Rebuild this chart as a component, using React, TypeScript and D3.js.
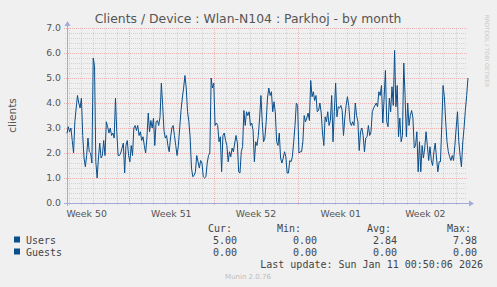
import React, { useRef, useEffect } from "react";
import * as d3 from "d3";

// Users, one value every stepHours from seriesStart
const users = [
  2.79, 3.05, 2.85, 3.0, 2.5, 2.0, 3.25, 3.8, 4.3, 4.0,
  3.8, 4.2, 2.7, 1.8, 1.45, 1.9, 2.6, 2.05, 2.0, 1.6,
  5.8, 5.5, 1.65, 1.0, 1.8, 2.4, 1.8, 1.9, 2.5, 1.9,
  3.25, 3.05, 2.8, 3.0, 2.7, 2.8, 2.6, 4.2, 2.85, 1.9,
  1.9, 2.0, 2.2, 2.4, 1.2, 2.3, 2.5, 1.9, 1.65, 2.3,
  1.9, 3.0, 3.1, 2.9, 3.1, 2.7, 2.85, 2.5, 2.65, 2.3,
  2.0, 2.6, 3.6, 2.85, 3.3, 3.0, 3.4, 2.3, 3.25, 3.3,
  3.1, 3.45, 4.8, 3.9, 2.9, 2.6, 2.7, 2.3, 2.05, 2.6,
  3.0, 3.1, 2.7, 2.3, 1.9, 2.3, 3.0, 3.7, 4.2, 4.6,
  5.1, 4.6, 3.65, 3.25, 2.6, 1.4, 1.05, 1.1, 1.25, 1.9,
  1.65, 1.4,
  1.7, 1.6, 1.05, 1.0, 1.05, 1.6, 1.9, 2.0, 5.0, 4.6,
  4.8, 3.1, 3.2, 3.1, 2.45, 2.65, 1.25, 2.7, 2.8, 2.5,
  2.3, 1.65, 2.05, 1.85, 2.2, 2.05, 2.4, 2.7, 2.4, 1.25,
  1.2, 2.05, 2.25, 3.7, 3.1, 3.65, 3.5, 3.65, 3.1, 3.2,
  2.9, 1.65, 2.45, 2.3, 2.7, 3.4, 4.3, 3.25, 2.45, 2.6,
  3.25, 4.2, 4.6, 4.3, 4.45, 3.65, 4.05, 3.6, 2.45, 2.3,
  2.8, 1.8, 1.6, 1.8, 2.05, 1.85, 1.2, 1.2, 1.7, 1.65,
  1.85, 2.45, 3.1, 4.0, 3.9, 2.0, 2.05, 2.05, 2.45, 3.5,
  3.25, 3.4, 3.6, 3.3, 4.9, 4.25, 4.45, 4.1, 4.3, 3.65,
  3.7, 4.0, 3.6, 2.8, 2.3, 3.45, 3.25, 3.65, 3.1, 3.3,
  4.3, 2.45,
  3.65, 4.8, 3.45, 3.85, 3.8, 3.9, 3.7, 2.7, 3.4, 3.9,
  4.25, 3.9, 3.25, 3.1, 3.25, 3.1, 4.0, 3.5, 3.25, 2.1,
  2.85, 3.0, 2.7, 2.05, 2.6, 2.65, 3.1, 2.7, 2.85, 3.65,
  3.8, 3.9, 4.0, 3.85, 4.45, 4.3, 4.7, 3.2, 4.2, 5.3,
  3.25, 3.05, 4.2, 3.65, 4.65, 3.9, 6.1, 3.85, 4.7, 2.65,
  3.4, 2.45, 2.7, 5.6, 4.3, 2.65, 4.0, 3.1, 3.5, 3.7,
  3.4, 2.2, 2.3, 2.85, 1.25, 2.45, 1.25, 2.3, 1.8, 2.2,
  2.85, 2.3, 1.7, 2.25, 1.7, 1.5, 2.05, 2.4, 1.8, 1.25,
  1.65, 1.65, 3.1, 4.7, 4.25, 3.25, 2.45, 2.05, 1.85, 1.7,
  1.9, 1.7, 2.3, 3.0, 3.65, 2.45, 1.9, 1.45, 2.4, 3.0,
  3.7, 4.3, 5.0,
];
const seriesStart = "2025-12-08T21:00:00Z";
const stepHours = 2.6;
const timeDomain = ["2025-12-08T21:00:00Z", "2026-01-10T22:40:00Z"];

const yTicks = [0, 1, 2, 3, 4, 5, 6, 7];
const yTickLabels = ["0.0", "1.0", "2.0", "3.0", "4.0", "5.0", "6.0", "7.0"];
const weekStarts = ["2025-12-07", "2025-12-14", "2025-12-21", "2025-12-28", "2026-01-04"];
const weekLabels = ["Week 50", "Week 51", "Week 52", "Week 01", "Week 02"];

const legendNames = ["Users", "Guests"];
const legendCur = ["5.00", "0.00"];
const legendMin = ["0.00", "0.00"];
const legendAvg = ["2.84", "0.00"];
const legendMax = ["7.98", "0.00"];

const title = "Clients / Device : Wlan-N104 : Parkhoj - by month";
const lastUpdate = "Last update: Sun Jan 11 00:50:06 2026";

export default function App() {
  const ref = useRef<SVGSVGElement>(null);

  useEffect(() => {
    const svg = d3.select(ref.current);
    svg.selectAll("*").remove();
    const width = 497;
    const height = 287;
    const left = 67;
    const right = 467;
    const top = 28;
    const bottom = 203;
    const lineColor = "#0a4f8c";
    const axisColor = "#a3aadc";
    const minorColor = "rgba(150,150,150,0.32)";
    const majorColor = "rgba(235,120,120,0.5)";
    const sans = "DejaVu Sans";
    const mono = "DejaVu Sans Mono";

    const x = d3
      .scaleUtc()
      .domain(timeDomain.map((d) => new Date(d)))
      .range([left, right]);
    const y = d3.scaleLinear().domain([0, 7]).range([bottom, top]);

    svg.append("rect").attr("width", width).attr("height", height).attr("fill", "#f0f0f0");

    // grid
    const grid = svg.append("g").attr("shape-rendering", "crispEdges").attr("stroke-width", 1);
    const minorY = d3.range(0, 7.01, 0.2).filter((v) => Math.abs(v - Math.round(v)) > 0.01);
    grid
      .selectAll("line.hmin")
      .data(minorY)
      .join("line")
      .attr("x1", left - 2)
      .attr("x2", right)
      .attr("y1", (d) => Math.round(y(d)) + 0.5)
      .attr("y2", (d) => Math.round(y(d)) + 0.5)
      .attr("stroke", minorColor)
      .attr("stroke-dasharray", "1,1");

    const days = d3.utcDay.range(x.domain()[0], x.domain()[1]).map((d) => d3.utcDay.ceil(d));
    grid
      .selectAll("line.vmin")
      .data(days.filter((d) => d.getUTCDay() !== 0))
      .join("line")
      .attr("x1", (d) => Math.round(x(d)) + 0.5)
      .attr("x2", (d) => Math.round(x(d)) + 0.5)
      .attr("y1", top)
      .attr("y2", bottom + 2)
      .attr("stroke", minorColor)
      .attr("stroke-dasharray", "1,1");

    grid
      .selectAll("line.hmaj")
      .data(yTicks.slice(1))
      .join("line")
      .attr("x1", left - 3)
      .attr("x2", right)
      .attr("y1", (d) => Math.round(y(d)) + 0.5)
      .attr("y2", (d) => Math.round(y(d)) + 0.5)
      .attr("stroke", majorColor)
      .attr("stroke-dasharray", "1,1");

    const weeks = weekStarts.map((d) => new Date(d + "T00:00:00Z"));
    grid
      .selectAll("line.vmaj")
      .data(weeks.filter((d) => x(d) > left))
      .join("line")
      .attr("x1", (d) => Math.round(x(d)) + 0.5)
      .attr("x2", (d) => Math.round(x(d)) + 0.5)
      .attr("y1", top)
      .attr("y2", bottom + 3)
      .attr("stroke", majorColor)
      .attr("stroke-dasharray", "1,1");

    // axes
    svg
      .append("line")
      .attr("x1", left - 3)
      .attr("x2", right + 3)
      .attr("y1", bottom + 0.5)
      .attr("y2", bottom + 0.5)
      .attr("stroke", axisColor);
    svg
      .append("line")
      .attr("x1", left + 0.5)
      .attr("x2", left + 0.5)
      .attr("y1", bottom + 3)
      .attr("y2", top - 3)
      .attr("stroke", axisColor);
    svg
      .append("path")
      .attr("d", `M${right + 2},${bottom - 2.5}L${right + 7},${bottom + 0.5}L${right + 2},${bottom + 3.5}Z`)
      .attr("fill", axisColor);
    svg
      .append("path")
      .attr("d", `M${left - 2.5},${top - 2}L${left + 0.5},${top - 7}L${left + 3.5},${top - 2}Z`)
      .attr("fill", axisColor);

    // series
    const start = new Date(seriesStart).getTime();
    const points = users.map((v, i) => ({ t: new Date(start + i * stepHours * 3600e3), v }));
    const line = d3
      .line<{ t: Date; v: number }>()
      .x((d) => x(d.t))
      .y((d) => y(d.v));
    svg
      .append("path")
      .datum(points)
      .attr("d", line)
      .attr("fill", "none")
      .attr("stroke", lineColor)
      .attr("stroke-width", 1)
      .attr("stroke-linejoin", "round");

    // y tick labels
    svg
      .append("g")
      .selectAll("text")
      .data(yTicks)
      .join("text")
      .attr("x", 61)
      .attr("y", (d) => y(d) + 3.4)
      .attr("text-anchor", "end")
      .attr("font-family", sans)
      .attr("font-size", 9.33)
      .attr("fill", "#555")
      .text((d, i) => yTickLabels[i]);

    // week labels, centred in their week
    svg
      .append("g")
      .selectAll("text")
      .data(weeks)
      .join("text")
      .attr("x", (d) => x(d3.utcHour.offset(d, 84)))
      .attr("y", 217)
      .attr("text-anchor", "middle")
      .attr("font-family", sans)
      .attr("font-size", 9.33)
      .attr("fill", "#555")
      .text((d, i) => weekLabels[i]);

    svg
      .append("text")
      .attr("x", 248)
      .attr("y", 23)
      .attr("text-anchor", "middle")
      .attr("font-family", sans)
      .attr("font-size", 12.4)
      .attr("fill", "#555")
      .text(title);

    svg
      .append("text")
      .attr("transform", `translate(16,${(top + bottom) / 2}) rotate(-90)`)
      .attr("text-anchor", "middle")
      .attr("font-family", sans)
      .attr("font-size", 10.6)
      .attr("fill", "#555")
      .text("clients");

    svg
      .append("text")
      .attr("transform", "translate(485,15) rotate(90)")
      .attr("font-family", sans)
      .attr("font-size", 5.6)
      .attr("fill", "#c8c8c8")
      .text("RRDTOOL / TOBI OETIKER");

    // legend
    const lg = svg.append("g").attr("font-family", mono).attr("font-size", 10).attr("fill", "#444");
    const headers = [
      ["Cur:", 208],
      ["Min:", 277],
      ["Avg:", 367],
      ["Max:", 447],
    ];
    headers.forEach(([t, hx]) => {
      lg.append("text").attr("x", hx as number).attr("y", 231.5).text(t as string);
    });
    const cols = [
      [legendCur, 213],
      [legendMin, 293],
      [legendAvg, 373],
      [legendMax, 453],
    ] as [string[], number][];
    legendNames.forEach((name, i) => {
      const ry = 243.5 + i * 12;
      lg.append("rect")
        .attr("x", 14)
        .attr("y", ry - 7)
        .attr("width", 6)
        .attr("height", 6)
        .attr("fill", lineColor);
      lg.append("text").attr("x", 26).attr("y", ry).text(name);
      cols.forEach(([vals, cx]) => {
        lg.append("text").attr("x", cx).attr("y", ry).text(vals[i]);
      });
    });
    lg.append("text").attr("x", 483).attr("y", 267.5).attr("text-anchor", "end").text(lastUpdate);

    svg
      .append("text")
      .attr("x", 248)
      .attr("y", 279)
      .attr("text-anchor", "middle")
      .attr("font-family", sans)
      .attr("font-size", 7)
      .attr("fill", "#bdbdbd")
      .text("Munin 2.0.76");
  }, []);

  return (
    <div style={{ position: "absolute", left: 0, top: 0 }}>
      <svg ref={ref} width={497} height={287} style={{ display: "block" }} />
    </div>
  );
}
